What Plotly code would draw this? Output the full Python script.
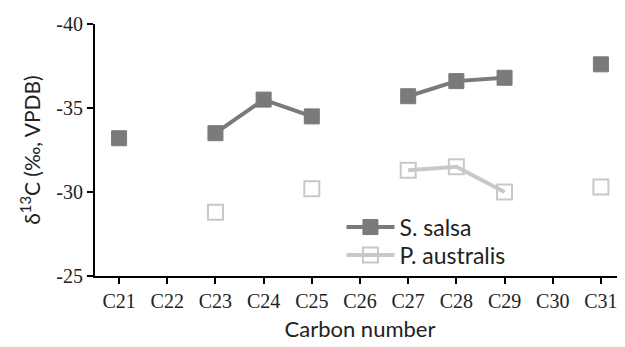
import plotly.graph_objects as go

categories = ["C21", "C22", "C23", "C24", "C25", "C26", "C27", "C28", "C29", "C30", "C31"]
s_salsa = [-33.2, None, -33.5, -35.5, -34.5, None, -35.7, -36.6, -36.8, None, -37.6]
p_australis = [None, None, -28.8, None, -30.2, None, -31.3, -31.5, -30.0, None, -30.3]
y_ticks = [-40, -35, -30, -25]

fig = go.Figure()
fig.add_trace(go.Scatter(
    x=categories, y=s_salsa, name="S. salsa", mode="lines+markers",
    connectgaps=False, legend="legend",
    line=dict(color="#7a7a7a", width=4),
    marker=dict(symbol="square", size=15, color="#7a7a7a",
                line=dict(color="#7a7a7a", width=1)),
))
fig.add_trace(go.Scatter(
    x=categories, y=p_australis, name="P. australis", mode="lines+markers",
    connectgaps=False, legend="legend2",
    line=dict(color="#c8c8c8", width=4),
    marker=dict(symbol="square-open", size=15, color="#c8c8c8",
                line=dict(color="#c8c8c8", width=2)),
))

legend_style = dict(xanchor="left", yanchor="middle", bgcolor="rgba(0,0,0,0)",
                    font=dict(family="Lato", size=23, color="#222"),
                    itemwidth=48)

# page body has an 8px margin, so the figure is sized/offset to compensate
fig.update_layout(
    width=617, height=339,
    margin=dict(l=87, r=0, t=16, b=71),
    plot_bgcolor="white", paper_bgcolor="white",
    showlegend=True,
    legend=dict(x=0.465, y=0.194, **legend_style),
    legend2=dict(x=0.465, y=0.083, **legend_style),
)
fig.update_xaxes(
    type="category", categoryorder="array", categoryarray=categories,
    range=[-0.5, 10.5],
    showline=True, linecolor="black", linewidth=2,
    ticks="outside", ticklen=6, tickwidth=1.5, tickcolor="black",
    showgrid=False, zeroline=False,
    tickfont=dict(family="Liberation Serif", size=20, color="#222"),
    title=dict(text="Carbon number", font=dict(family="Lato", size=22, color="#222"),
               standoff=11),
)
fig.update_yaxes(
    range=[-25, -40], tickvals=y_ticks, ticktext=[str(v) for v in y_ticks],
    showline=True, linecolor="black", linewidth=2,
    ticks="outside", ticklen=6, tickwidth=1.5, tickcolor="black",
    showgrid=False, zeroline=False,
    tickfont=dict(family="Liberation Serif", size=20, color="#222"),
    title=dict(text="δ<sup>13</sup>C (‰, VPDB)", font=dict(family="Lato", size=21, color="#222"),
               standoff=10),
)
fig.write_html("out.html")
